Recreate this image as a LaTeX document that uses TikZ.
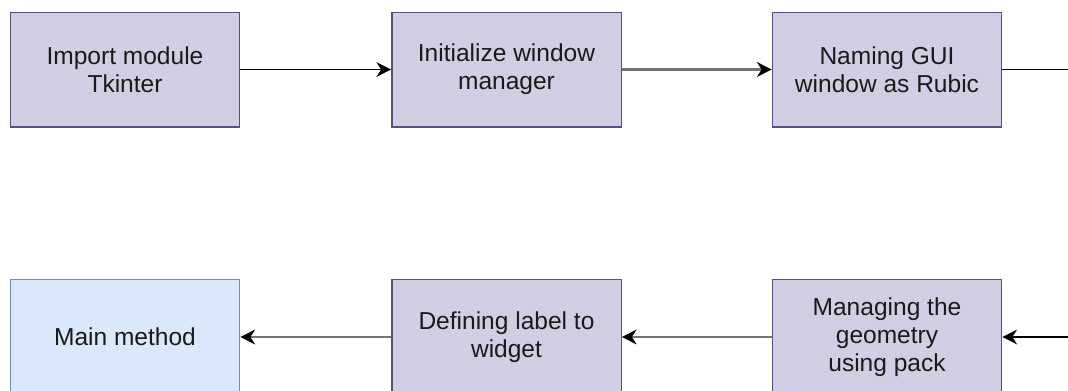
\documentclass[tikz,border=0pt]{standalone}
\usepackage{fontspec}
\setmainfont{Liberation Sans}
\usetikzlibrary{arrows.meta}
\definecolor{pfill}{HTML}{D0CEE2}
\definecolor{pdraw}{HTML}{56517E}
\definecolor{bfill}{HTML}{DAE8FC}
\definecolor{bdraw}{HTML}{6C8EBF}
\definecolor{txt}{HTML}{1A1A1A}
\begin{document}
\begin{tikzpicture}[x=0.75pt,y=-0.75pt,
  stepbox/.style={draw=pdraw,fill=pfill,line width=1pt,minimum width=172pt,minimum height=86pt,
    align=center,inner sep=0pt,text=txt,font=\fontsize{18.4}{21}\selectfont},
  mainbox/.style={stepbox,draw=bdraw,fill=bfill},
  tipc/.style={-{Stealth[length=11pt,width=11pt,inset=3.5pt,color=black,fill=black]}},
  conn/.style={line width=1.4pt,tipc},
  conng/.style={draw=black!55,line width=2pt,tipc}]
\useasboundingbox (0,0) rectangle (1068,390);
\clip (0,0) rectangle (1068,390);
\node[stepbox] (a) at (125,69.5) {Import module\\Tkinter};
\node[stepbox] (b) at (506.5,69.5) {Initialize window\\manager};
\node[stepbox] (c) at (887,69.5) {Naming GUI\\window as Rubic};
\node[mainbox] (f) at (125,337) {Main method};
\node[stepbox] (e) at (506.5,337) {Defining label to\\widget};
\node[stepbox] (d) at (887,337) {Managing the\\geometry\\using pack};
\coordinate (cout) at (1070,69.5);
\coordinate (din) at (1070,337);
\draw[conn] (a) -- (b);
\draw[conng] (b) -- (c);
\draw[line width=1.4pt] (c.east) -- (cout);
\draw[conn] (din) -- (d.east);
\draw[conng] (d) -- (e);
\draw[conng] (e) -- (f);
\end{tikzpicture}
\end{document}
